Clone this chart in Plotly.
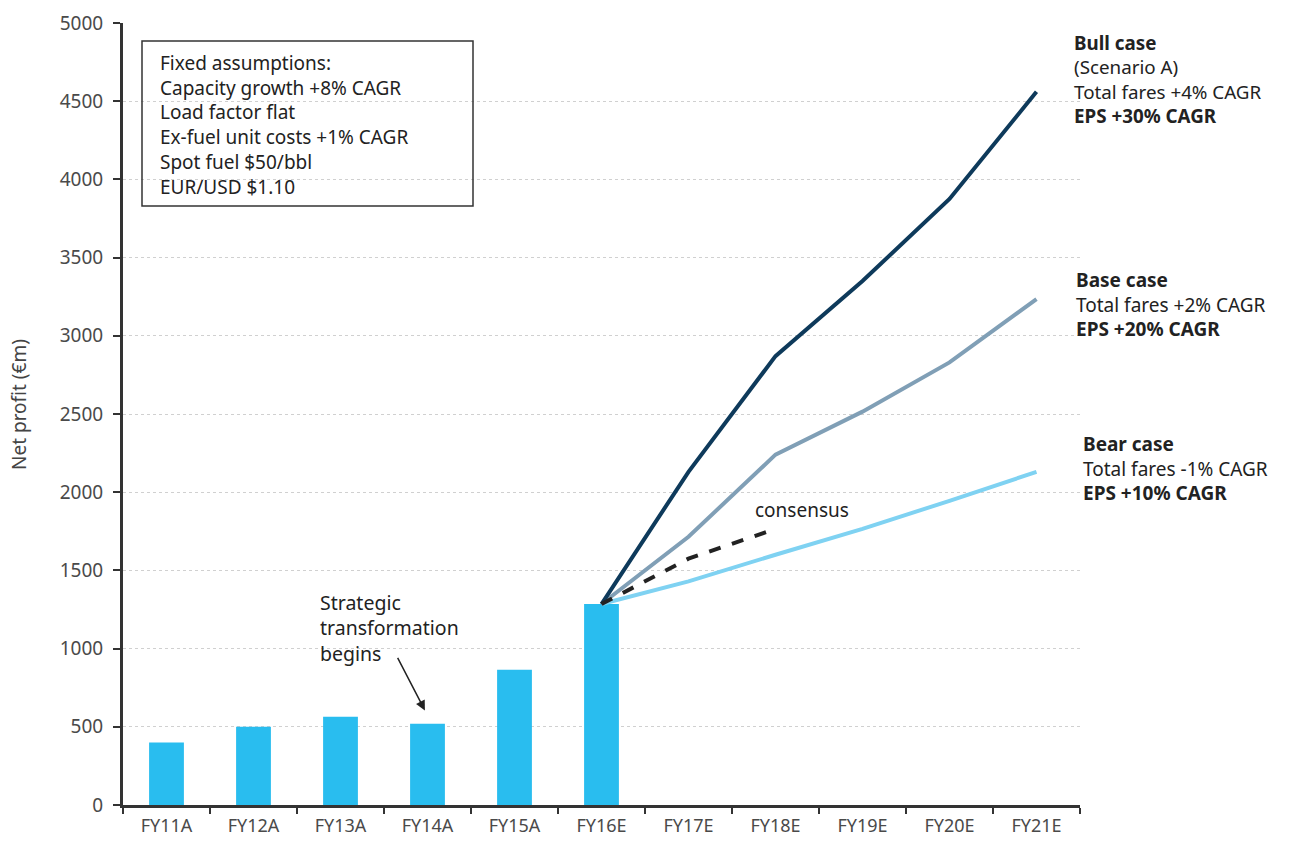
import plotly.graph_objects as go

categories = ["FY11A", "FY12A", "FY13A", "FY14A", "FY15A", "FY16E",
              "FY17E", "FY18E", "FY19E", "FY20E", "FY21E"]
bar_values = [400, 500, 565, 520, 865, 1285]
line_cats = ["FY16E", "FY17E", "FY18E", "FY19E", "FY20E", "FY21E"]
bull = [1285, 2130, 2870, 3350, 3875, 4560]
base = [1285, 1715, 2240, 2515, 2830, 3235]
bear = [1285, 1430, 1600, 1765, 1945, 2130]
cons_cats = ["FY16E", "FY17E", "FY18E"]
consensus = [1285, 1575, 1765]

y_ticks = [0, 500, 1000, 1500, 2000, 2500, 3000, 3500, 4000, 4500, 5000]

box_lines = ["Fixed assumptions:", "Capacity growth +8% CAGR", "Load factor flat",
             "Ex-fuel unit costs +1% CAGR", "Spot fuel $50/bbl", "EUR/USD $1.10"]
bull_lines = ["<b>Bull case</b>", "(Scenario A)", "Total fares +4% CAGR", "<b>EPS +30% CAGR</b>"]
base_lines = ["<b>Base case</b>", "Total fares +2% CAGR", "<b>EPS +20% CAGR</b>"]
bear_lines = ["<b>Bear case</b>", "Total fares -1% CAGR", "<b>EPS +10% CAGR</b>"]
strat_lines = ["Strategic", "transformation", "begins"]

FONT = "Noto Sans"
L, R, T, B = 123, 1080, 23, 805
W, H = 1289, 841


def px(x):
    return (x - L) / (R - L)


def py(y):
    return (B - y) / (B - T)


fig = go.Figure()
fig.add_trace(go.Bar(x=categories[:len(bar_values)], y=bar_values, marker_color="#29bdef",
                     marker_line_width=0, width=0.4, showlegend=False))
fig.add_trace(go.Scatter(x=line_cats, y=bear, mode="lines",
                         line=dict(color="#7fd2f2", width=4), showlegend=False))
fig.add_trace(go.Scatter(x=line_cats, y=base, mode="lines",
                         line=dict(color="#809fb6", width=4), showlegend=False))
fig.add_trace(go.Scatter(x=line_cats, y=bull, mode="lines",
                         line=dict(color="#0e3a5b", width=4), showlegend=False))
fig.add_trace(go.Scatter(x=cons_cats, y=consensus, mode="lines",
                         line=dict(color="#222222", width=4, dash="dash"), showlegend=False))

ann = []


def add_block(lines, x, y_first, y_last, size=19):
    ann.append(dict(text="<br>".join(lines), x=px(x), y=py((y_first + y_last) / 2),
                    xref="paper", yref="paper", xanchor="left", yanchor="middle",
                    align="left", showarrow=False,
                    font=dict(family=FONT, size=size, color="#222222")))


add_block(box_lines, 158, 64, 186)
add_block(bull_lines, 1072, 43, 116, size=18.8)
add_block(base_lines, 1074, 280, 329)
add_block(bear_lines, 1081, 444, 493)
add_block(strat_lines, 318, 602, 654, size=19.5)
add_block(["consensus"], 753, 510, 510)

ann.append(dict(text="Net profit (€m)", x=px(19), y=py(405), xref="paper", yref="paper",
                xanchor="center", yanchor="middle", textangle=-90, showarrow=False,
                font=dict(family=FONT, size=19, color="#444444")))

ann.append(dict(x=2.97, y=605, xref="x", yref="y", ax=-28, ay=-54, axref="pixel", ayref="pixel",
                showarrow=True, arrowhead=2, arrowsize=1.3, arrowwidth=1.5, arrowcolor="#222222",
                text=""))

fig.update_layout(
    width=W, height=H,
    margin=dict(l=L, r=W - R, t=T, b=H - B),
    paper_bgcolor="white", plot_bgcolor="white",
    font=dict(family=FONT, size=16, color="#555555"),
    annotations=ann,
    shapes=[dict(type="rect", xref="paper", yref="paper", x0=px(142), x1=px(473),
                 y0=py(206), y1=py(41), line=dict(color="#333333", width=1.5))],
    xaxis=dict(categoryorder="array", categoryarray=categories, range=[-0.5, 10.5],
               tickson="boundaries", ticks="outside", ticklen=6, tickwidth=2, tickcolor="#333333",
               showline=True, linecolor="#333333", linewidth=3, showgrid=False,
               automargin=False, ticklabelstandoff=2,
               tickfont=dict(size=18, color="#4a4a4a")),
    yaxis=dict(range=[0, 5000], tickvals=y_ticks, ticks="outside", ticklen=7, tickwidth=1.5,
               tickcolor="#333333", showline=True, linecolor="#333333", linewidth=3,
               showgrid=True, gridcolor="#d0d0d0", griddash="dot", gridwidth=1,
               automargin=False, ticklabelstandoff=6,
               zeroline=False, tickfont=dict(size=19, color="#4a4a4a")),
)

fig.write_html("out.html")
